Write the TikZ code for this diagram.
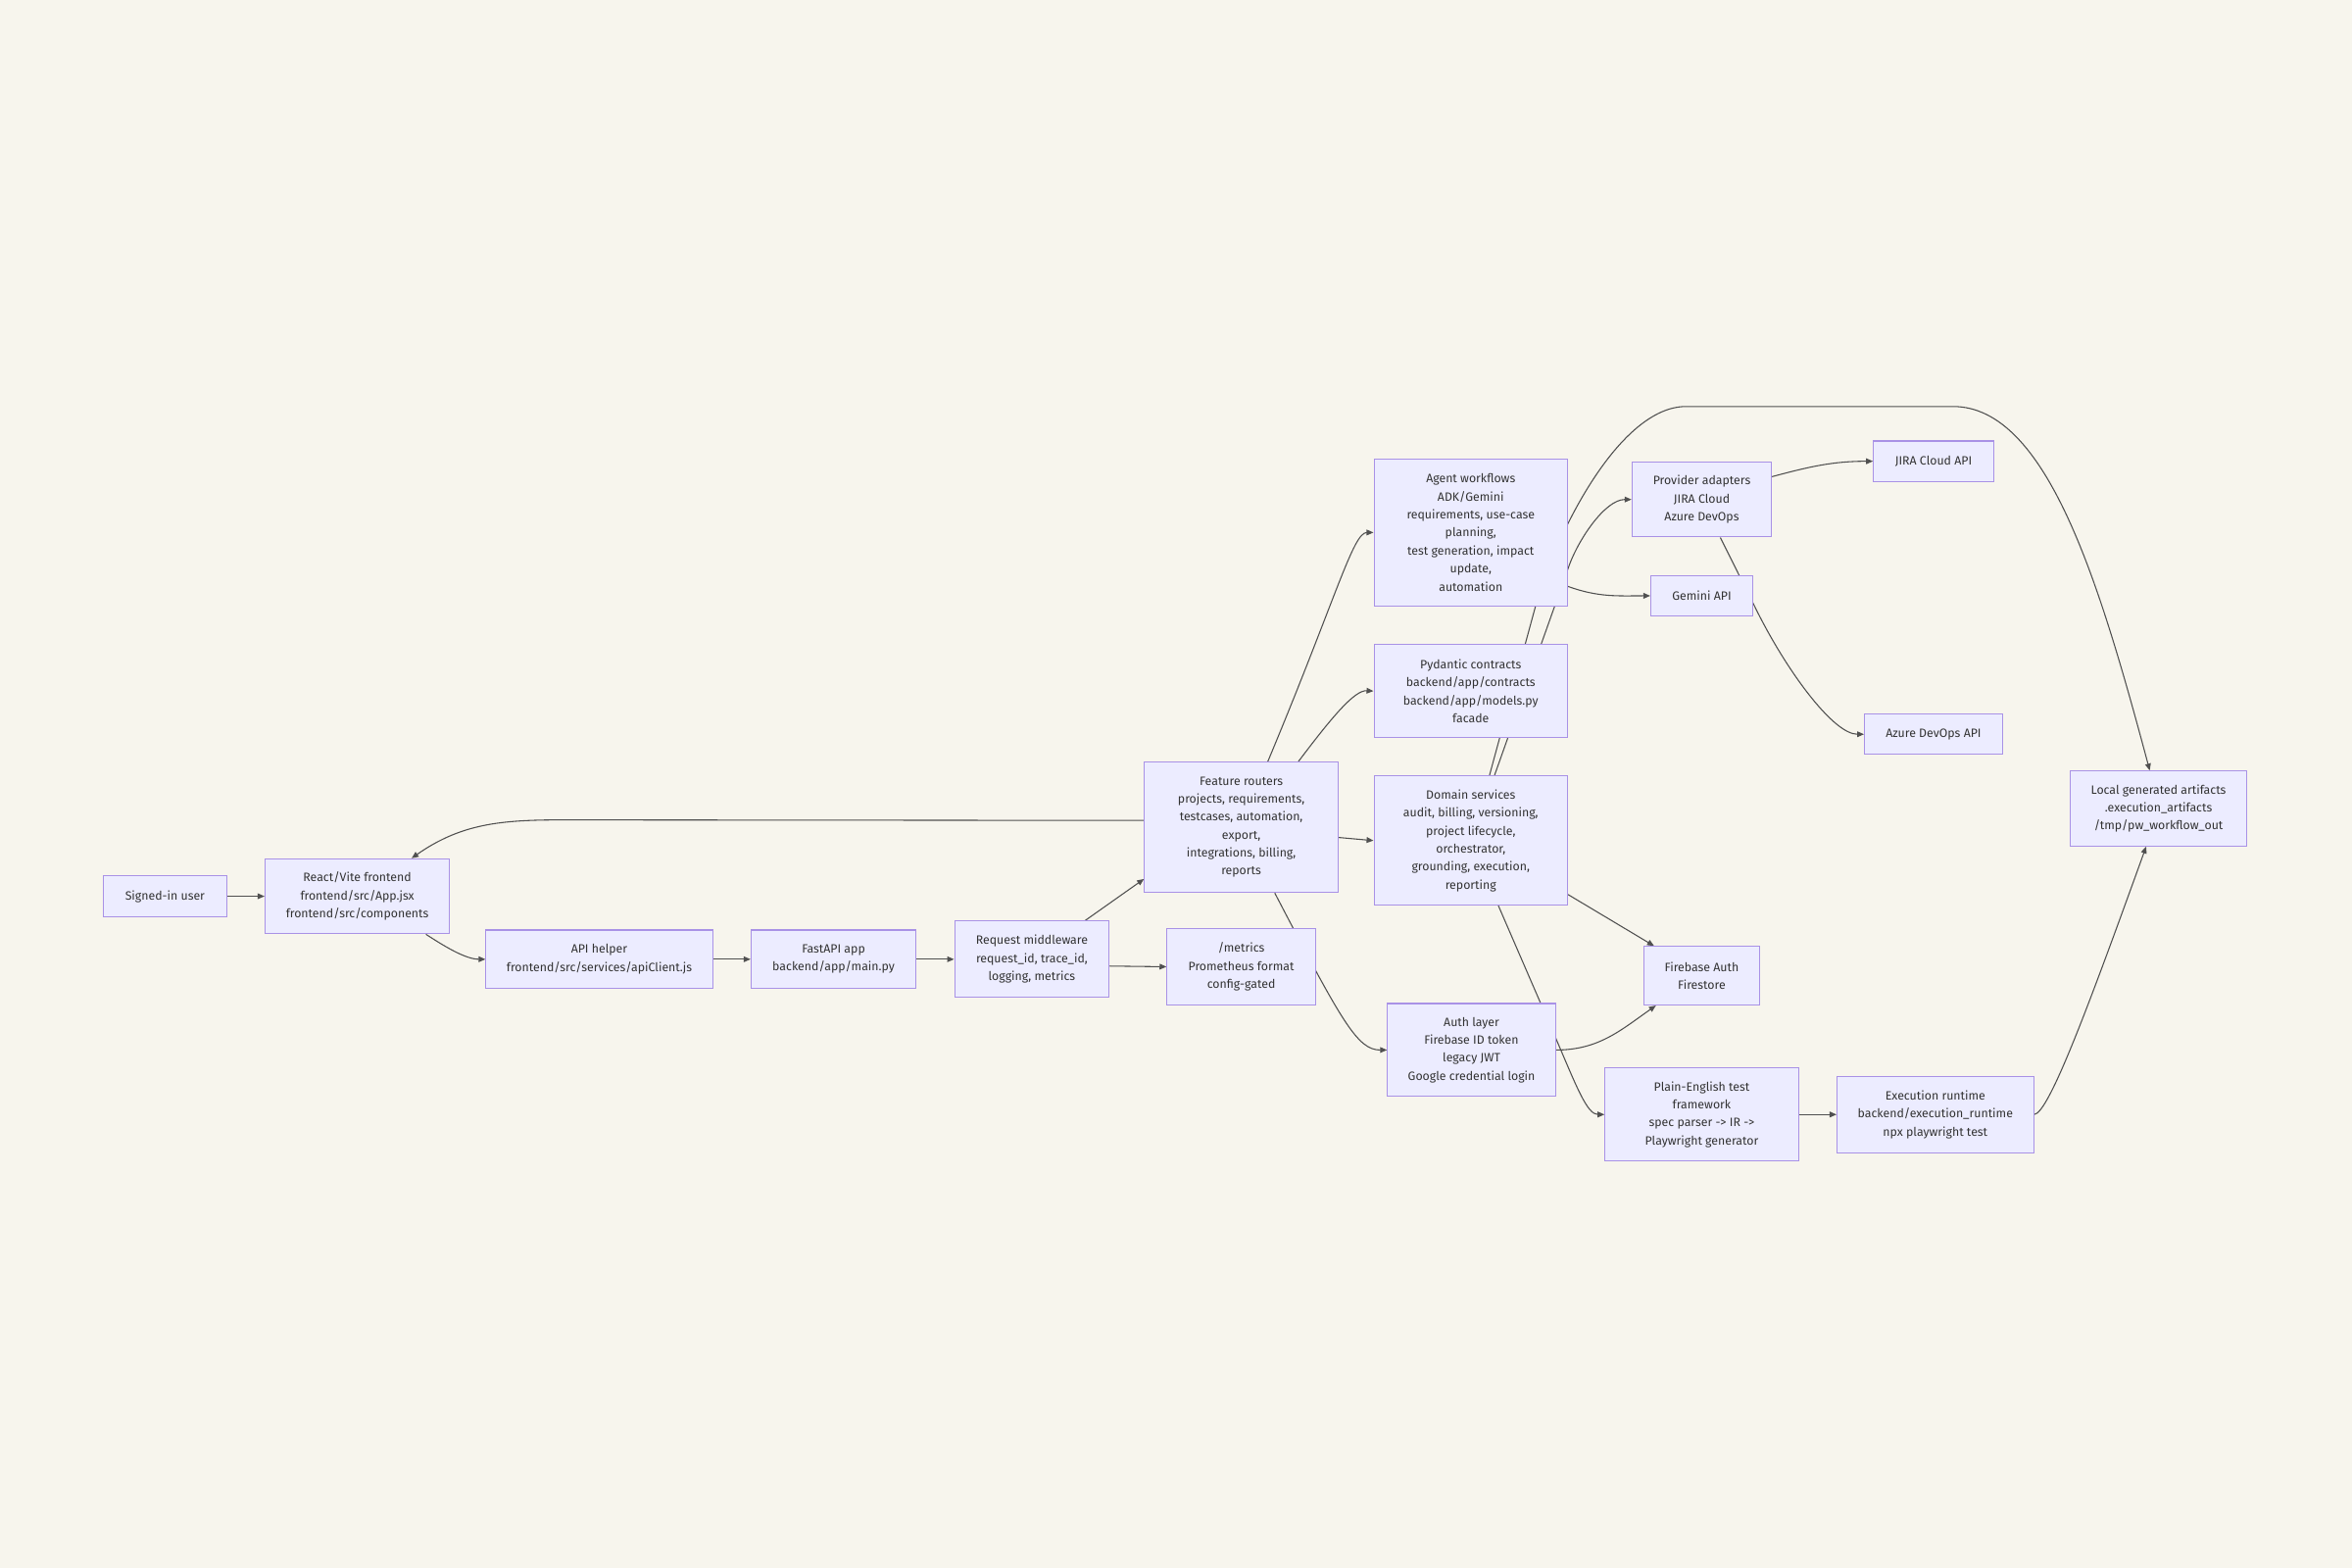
\documentclass[tikz,border=0pt]{standalone}
\usepackage{fontspec}
\setmainfont{Fira Sans}
\usepackage{tikz}
\usetikzlibrary{arrows.meta,positioning}

\definecolor{bgcream}{HTML}{F7F5ED}
\definecolor{boxfill}{HTML}{ECECFF}
\definecolor{boxline}{HTML}{A992E6}
\definecolor{edgeline}{HTML}{505050}
\definecolor{txt}{HTML}{333333}

\pgfdeclarelayer{bg}
\pgfdeclarelayer{edges}
\pgfsetlayers{bg,edges,main}

\begin{document}
\begin{tikzpicture}
  [
   x=1pt, y=1pt,
   node distance=25pt,
   box/.style={rectangle,draw=boxline,fill=boxfill,line width=0.7pt,text=txt,
               align=center,inner xsep=2pt,inner ysep=0pt,
               font=\fontsize{8.05}{12}\selectfont},
   ln/.style={draw=edgeline,line width=0.7pt,-{Triangle[length=4.6pt,width=3.8pt]}}
  ]
   \begin{pgfonlayer}{bg}
     \fill[bgcream] (0,0) rectangle (1568,-1045.33);
   \end{pgfonlayer}
   \useasboundingbox (0,0) rectangle (1568,-1045.33);

   % front end and request path
   \node[box,minimum width=82pt,minimum height=27pt] (usr) at (110,-597.5) {Signed-in user};
   \node[box,minimum width=123pt,minimum height=50pt] (fe) [right=of usr]
        {React/Vite frontend\\frontend/src/App.jsx\\frontend/src/components};
   \node[box,minimum width=151pt,minimum height=39pt] (api) at (399.5,-639.5)
        {API helper\\frontend/src/services/apiClient.js};
   \node[box,minimum width=110pt,minimum height=39pt] (fast) [right=of api]
        {FastAPI app\\backend/app/main.py};
   \node[box,minimum width=103pt,minimum height=51pt] (mw) [right=of fast]
        {Request middleware\\request\_id, trace\_id,\\logging, metrics};
   \node[box,minimum width=99pt,minimum height=51pt] (met) at (827.5,-644.5)
        {/metrics\\Prometheus format\\config-gated};
   \node[box,minimum width=129pt,minimum height=87pt] (fr) at (827.5,-551.5)
        {Feature routers\\projects, requirements,\\testcases, automation,\\export,\\integrations, billing,\\reports};

   % backend column
   \node[box,minimum width=129pt,minimum height=98pt] (agent) at (980.5,-355)
        {Agent workflows\\ADK/Gemini\\requirements, use-case\\planning,\\test generation, impact\\update,\\automation};
   \node[box,minimum width=129pt,minimum height=62pt] (pyd) [below=of agent]
        {Pydantic contracts\\backend/app/contracts\\backend/app/models.py\\facade};
   \node[box,minimum width=129pt,minimum height=86pt] (dom) [below=of pyd]
        {Domain services\\audit, billing, versioning,\\project lifecycle,\\orchestrator,\\grounding, execution,\\reporting};
   \node[box,minimum width=112pt,minimum height=62pt] (auth) at (981,-700)
        {Auth layer\\Firebase ID token\\legacy JWT\\Google credential login};

   % providers and runtime
   \node[box,minimum width=93pt,minimum height=50pt] (prov) at (1134.5,-333)
        {Provider adapters\\JIRA Cloud\\Azure DevOps};
   \node[box,minimum width=68pt,minimum height=27pt] (gem) [below=of prov] {Gemini API};
   \node[box,minimum width=77pt,minimum height=39pt] (fire) at (1134.5,-650.5)
        {Firebase Auth\\Firestore};
   \node[box,minimum width=129pt,minimum height=62pt] (pe) at (1134.5,-743)
        {Plain-English test\\framework\\spec parser -> IR ->\\Playwright generator};
   \node[box,minimum width=80pt,minimum height=27pt] (jira) at (1289,-307.5) {JIRA Cloud API};
   \node[box,minimum width=92pt,minimum height=27pt] (azure) at (1289,-489.5) {Azure DevOps API};
   \node[box,minimum width=131pt,minimum height=51pt] (run) [right=of pe]
        {Execution runtime\\backend/execution\_runtime\\npx playwright test};
   \node[box,minimum width=118pt,minimum height=50pt] (art) at (1439,-539)
        {Local generated artifacts\\.execution\_artifacts\\/tmp/pw\_workflow\_out};

   \begin{pgfonlayer}{edges}
   \draw[ln] (usr) -- (fe);
   \draw[ln] (fe.-29) .. controls (295,-630) and (310,-639.5) .. (api.west);
   \draw[ln] (api) -- (fast);
   \draw[ln] (fast) -- (mw);
   \draw[ln] (mw.36) -- (fr.208);
   \draw[ln] (mw.-5) -- (met.west);
   \draw[ln] (fr.176) -- (375,-546.6) to[out=180,in=35] (fe.35);
   \draw[ln] (fr.68) .. controls (891,-398) and (902,-355) .. (agent.west);
   \draw[ln] (fr.49) .. controls (888,-478) and (903,-460) .. (pyd.west);
   \draw[ln] (fr.-6) -- (dom.west);
   \draw[ln] (fr.-63) .. controls (895,-682) and (905,-700) .. (auth.west);
   \draw[ln] (agent.-29) to[out=-20,in=180] (gem.west);
   \draw[ln] (dom.70) -- (1045.8,-377.8) .. controls (1052,-360) and (1070,-333) .. (prov.west);
   \draw[ln] (dom.74) -- (1023.6,-404.4) .. controls (1037.5,-354.4) and (1080,-271) .. (1124,-271)
             -- (1302,-271) .. controls (1365,-271) and (1400,-390) .. (art.103);
   \draw[ln] (prov.18) to[out=15,in=180] (jira.west);
   \draw[ln] (prov.-64) -- (1169.3,-403.3) .. controls (1190,-446) and (1222,-489.5) .. (azure.west);
   \draw[ln] (dom.-29) -- (fire.148);
   \draw[ln] (auth.east) to[out=0,in=-145] (fire.213);
   \draw[ln] (dom.-67) -- (1037.8,-693.6) .. controls (1050.7,-723.6) and (1058,-743) .. (pe.west);
   \draw[ln] (pe) -- (run);
   \draw[ln] (run.east) .. controls (1366,-742.6) and (1394,-666) .. (art.-108);
   \end{pgfonlayer}

\end{tikzpicture}
\end{document}
